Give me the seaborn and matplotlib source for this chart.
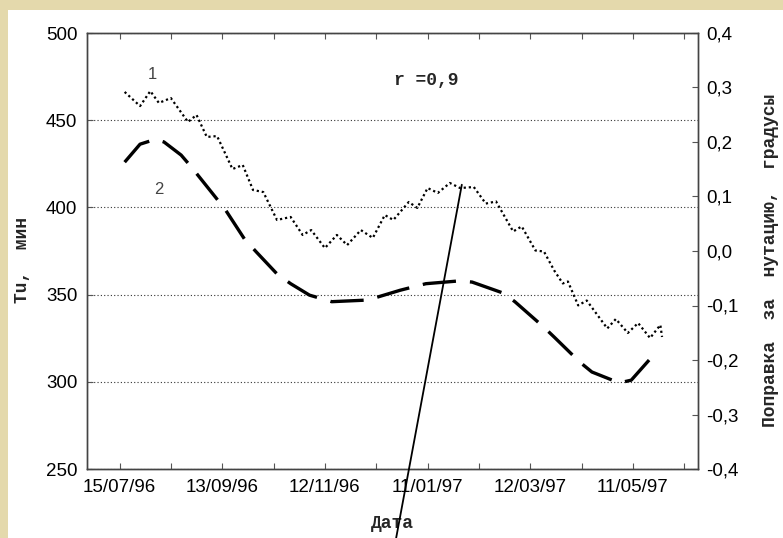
import matplotlib
matplotlib.use("Agg")
import matplotlib.pyplot as plt
import matplotlib.dates as mdates
from matplotlib.ticker import FixedLocator, MultipleLocator, FuncFormatter
from matplotlib.patches import Rectangle
import pandas as pd
import seaborn as sns

# Series 1: Tu, minutes (dotted curve, left axis)
tu_dates = [
    "1996-07-18", "1996-07-27", "1996-08-02", "1996-08-07", "1996-08-14",
    "1996-08-24", "1996-08-29", "1996-09-04", "1996-09-10", "1996-09-19",
    "1996-09-25", "1996-10-01", "1996-10-07", "1996-10-15", "1996-10-23",
    "1996-10-30", "1996-11-04", "1996-11-12", "1996-11-19", "1996-11-25",
    "1996-12-03", "1996-12-10", "1996-12-17", "1996-12-22", "1996-12-31",
    "1997-01-05", "1997-01-11", "1997-01-17", "1997-01-24", "1997-01-30",
    "1997-02-07", "1997-02-14", "1997-02-20", "1997-03-02", "1997-03-07",
    "1997-03-15", "1997-03-20", "1997-03-26", "1997-03-31", "1997-04-03",
    "1997-04-09", "1997-04-14", "1997-04-26", "1997-05-01", "1997-05-08",
    "1997-05-14", "1997-05-21", "1997-05-27", "1997-05-28",
]
tu_values = [
    466.2, 458.1, 466.7, 459.9, 462.7,
    449.0, 453.0, 440.4, 440.9, 422.0,
    424.3, 410.0, 408.8, 392.8, 394.5,
    384.2, 387.0, 376.7, 384.2, 378.4,
    387.0, 382.5, 395.6, 392.8, 403.1,
    399.7, 411.1, 408.3, 414.0, 411.1,
    411.7, 402.2, 403.4, 386.2, 389.1,
    375.3, 374.7, 363.8, 356.4, 357.5,
    343.8, 346.6, 330.6, 336.0, 328.0,
    333.7, 325.1, 332.6, 325.7,
]

# Series 2: nutation correction, degrees (dashed curve, right axis)
nut_dates = [
    "1996-07-18", "1996-07-27", "1996-08-05", "1996-08-10", "1996-08-20",
    "1996-08-26", "1996-09-09", "1996-09-15", "1996-09-26", "1996-10-03",
    "1996-10-15", "1996-10-23", "1996-11-03", "1996-11-16", "1996-12-07",
    "1996-12-26", "1997-01-10", "1997-01-29", "1997-02-06", "1997-02-24",
    "1997-03-03", "1997-03-20", "1997-03-26", "1997-04-10", "1997-04-17",
    "1997-05-03", "1997-05-10", "1997-05-23",
]
nut_values = [
    0.163, 0.196, 0.205, 0.200, 0.176,
    0.154, 0.099, 0.075, 0.022, -0.002,
    -0.042, -0.060, -0.081, -0.093, -0.090,
    -0.072, -0.060, -0.055, -0.057, -0.077,
    -0.093, -0.140, -0.158, -0.204, -0.222,
    -0.242, -0.237, -0.191,
]

major_tick_dates = ["1996-07-15", "1996-09-13", "1996-11-12",
                    "1997-01-11", "1997-03-12", "1997-05-11"]
x_start, x_end = "1996-06-26", "1997-06-18"

sns.set_style("white")
plt.rcParams["font.family"] = ["Liberation Sans", "DejaVu Sans"]

tu_df = pd.DataFrame({"date": pd.to_datetime(tu_dates), "tu": tu_values})
nut_df = pd.DataFrame({"date": pd.to_datetime(nut_dates), "nut": nut_values})

fig = plt.figure(figsize=(7.83, 5.38), dpi=100)
fig.patch.set_facecolor("#E4D9AC")
# white sheet over the parchment background
sheet = Rectangle((8 / 783, 0), 1, 1 - 10 / 538, transform=fig.transFigure,
                  facecolor="white", edgecolor="none", zorder=-10)
fig.add_artist(sheet)

ax = fig.add_axes([87 / 783, 1 - 469 / 538, 611 / 783, 436 / 538])
ax.set_facecolor("white")
ax2 = ax.twinx()

sns.lineplot(data=tu_df, x="date", y="tu", ax=ax, color="black", lw=1.6,
             linestyle=(0, (1, 1.3)), estimator=None)
sns.lineplot(data=nut_df, x="date", y="nut", ax=ax2, color="black", lw=2.4,
             linestyle=(0, (10, 4.2)), estimator=None)

# axes ranges and ticks
ax.set_xlim(mdates.date2num(pd.Timestamp(x_start)), mdates.date2num(pd.Timestamp(x_end)))
ax.set_ylim(250, 500)
ax2.set_ylim(-0.4, 0.4)
ax.yaxis.set_major_locator(MultipleLocator(50))
ax2.yaxis.set_major_locator(MultipleLocator(0.1))
ax2.yaxis.set_major_formatter(FuncFormatter(lambda v, p: f"{v:.1f}".replace(".", ",").replace("-0,0", "0,0")))

ax.xaxis.set_major_locator(FixedLocator(mdates.date2num(pd.to_datetime(major_tick_dates))))
ax.xaxis.set_minor_locator(FixedLocator(
    mdates.date2num(pd.date_range("1996-07-15", x_end, freq="30D"))))
ax.xaxis.set_major_formatter(mdates.DateFormatter("%d/%m/%y"))

ax.tick_params(axis="x", which="both", direction="in", top=True, bottom=True,
               length=4, width=0.8, color="#555", labelsize=13.5, labelcolor="black", pad=7)
ax.tick_params(axis="y", direction="in", length=4, width=0.8, color="#555",
               labelsize=13.5, labelcolor="black", pad=7)
ax2.tick_params(axis="y", direction="in", length=4, width=0.8, color="#555",
                labelsize=13.5, labelcolor="black", pad=6)

# dotted horizontal grid
ax.yaxis.grid(True, linestyle=(0, (1, 2)), color="#333", lw=0.8)
ax.xaxis.grid(False)
ax2.grid(False)

for a in (ax, ax2):
    for s in a.spines.values():
        s.set_color("#444")
        s.set_linewidth(1.0)

# axis titles
mono = dict(family="Liberation Mono", fontweight="bold", fontsize=13)
ax.set_xlabel("Дата", **mono)
ax.set_ylabel("Tu,  мин", **mono)
ax2.set_ylabel("Поправка  за  нутацию,  градусы", **mono)
ax.xaxis.set_label_coords(0.5, -0.105)
ax.yaxis.set_label_coords(-0.092, 0.479)
ax2.yaxis.set_label_coords(1.105, 0.479)

# annotations
ax.text(pd.Timestamp("1996-08-03"), 476, "1", fontsize=12, color="#444",
        ha="center", va="center")
ax.text(pd.Timestamp("1996-08-07"), 410, "2", fontsize=12, color="#444",
        ha="center", va="center")
ax.text(0.556, 0.892, "r =0,9", transform=ax.transAxes, ha="center", va="center", **mono)
ax2.annotate("", xy=(pd.Timestamp("1997-01-31"), (413 - 375) * 0.0032),
             xytext=(0.506, -0.158), textcoords="axes fraction",
             arrowprops=dict(arrowstyle="-", color="black", lw=1.3,
                             shrinkA=0, shrinkB=0),
             annotation_clip=False)

fig.savefig("out.png", dpi=100, facecolor=fig.get_facecolor())
